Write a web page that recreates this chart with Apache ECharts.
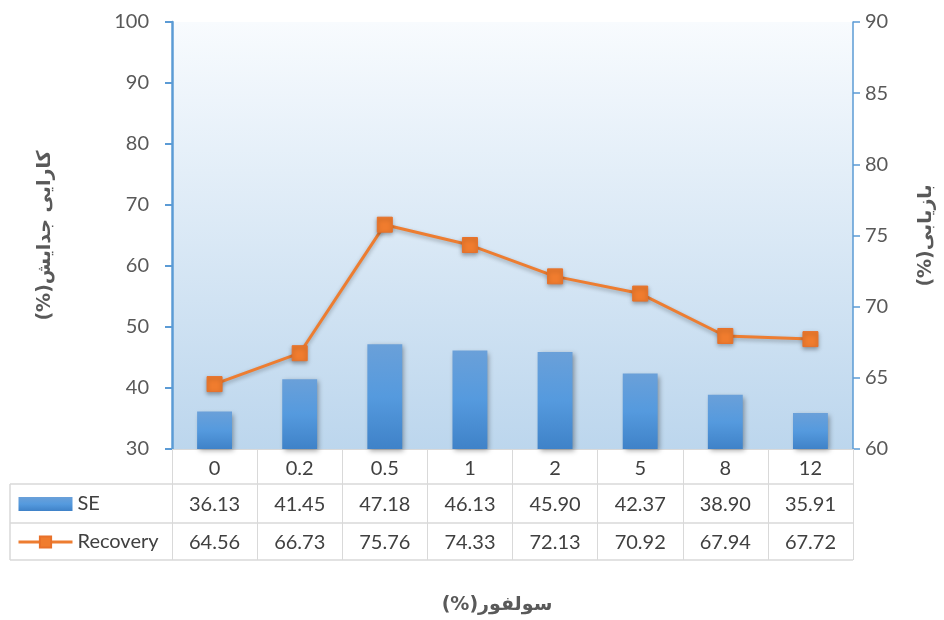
<!DOCTYPE html>
<html>
<head>
<meta charset="utf-8">
<script src="https://cdn.jsdelivr.net/npm/echarts@6/dist/echarts.min.js"></script>
<style>
	html, body { margin: 0; padding: 0; background: #fff; }
	#chartBox { width: 944px; height: 620px; }
</style>
</head>
<body>
<div id="chartBox"></div>
<script>
	// data
	var categories = ['0', '0.2', '0.5', '1', '2', '5', '8', '12'];
	var seValues = [36.13, 41.45, 47.18, 46.13, 45.90, 42.37, 38.90, 35.91];
	var recoveryValues = [64.56, 66.73, 75.76, 74.33, 72.13, 70.92, 67.94, 67.72];

	var latin = 'Lato, "Open Sans", sans-serif';
	var persian = '"DejaVu Sans", sans-serif';
	var tableLine = '#d9d9d9';
	var txt = '#404040';

	function fmt(v) { return v.toFixed(2); }
	// right-to-left embedding so "(%)" lands on the left like in the original
	function rtl(s) { return '\u202B' + s + '\u202C'; }

	var chart = echarts.init(document.getElementById('chartBox'));

	var option = {
		animation: false,
		grid: {
			left: 172, right: 91, top: 22, bottom: 171,
			show: true,
			borderWidth: 0,
			backgroundColor: {
				type: 'linear', x: 0, y: 0, x2: 0, y2: 1,
				colorStops: [{ offset: 0, color: '#f8fbfe' }, { offset: 1, color: '#bcd6ed' }]
			}
		},
		legend: {
			orient: 'vertical',
			left: 17,
			top: 494,
			padding: 0,
			itemWidth: 54,
			itemHeight: 14,
			itemGap: 18,
			textStyle: { fontFamily: latin, fontSize: 20, color: txt, lineHeight: 14, padding: [0, 0, 0, 0] },
			data: [
				{ name: 'SE', icon: 'rect' },
				{ name: 'Recovery', lineStyle: { width: 3 } }
			]
		},
		xAxis: [{
			type: 'category',
			data: categories,
			position: 'bottom',
			axisLine: { show: true, lineStyle: { color: tableLine, width: 1 } },
			axisTick: { show: true, length: 111, lineStyle: { color: tableLine } },
			axisLabel: { margin: 10, fontFamily: latin, fontSize: 20, color: txt }
		}, {
			type: 'category',
			data: seValues.map(fmt),
			position: 'bottom',
			offset: 36,
			axisLine: { show: false },
			axisTick: { show: false },
			axisLabel: { margin: 10, fontFamily: latin, fontSize: 20, color: txt }
		}, {
			type: 'category',
			data: recoveryValues.map(fmt),
			position: 'bottom',
			offset: 74,
			axisLine: { show: false },
			axisTick: { show: false },
			axisLabel: { margin: 10, fontFamily: latin, fontSize: 20, color: txt }
		}],
		yAxis: [{
			type: 'value',
			min: 30, max: 100, interval: 10,
			position: 'left',
			name: rtl('کارایی جدایش(%)'),
			nameLocation: 'middle',
			nameGap: 117,
			nameTextStyle: { fontFamily: persian, fontSize: 19, fontWeight: 'bold', color: '#595959' },
			axisLine: { show: true, lineStyle: { color: '#5b9bd5', width: 2.5 } },
			axisTick: { show: true, length: 7, lineStyle: { color: '#5b9bd5', width: 2 } },
			axisLabel: { margin: 23, fontFamily: latin, fontSize: 20, color: '#595959' },
			splitLine: { show: false }
		}, {
			type: 'value',
			min: 60, max: 90, interval: 5,
			position: 'right',
			name: rtl('بازیابی(%)'),
			nameLocation: 'middle',
			nameGap: 64,
			nameTextStyle: { fontFamily: persian, fontSize: 19, fontWeight: 'bold', color: '#595959' },
			axisLine: { show: true, lineStyle: { color: '#5b9bd5', width: 1.5 } },
			axisTick: { show: true, length: 7, lineStyle: { color: '#5b9bd5', width: 1.5 } },
			axisLabel: { margin: 12, fontFamily: latin, fontSize: 20, color: '#595959' },
			splitLine: { show: false }
		}],
		series: [{
			name: 'SE',
			type: 'bar',
			xAxisIndex: 0,
			yAxisIndex: 0,
			data: seValues,
			barWidth: '41%',
			itemStyle: {
				color: {
					type: 'linear', x: 0, y: 0, x2: 0, y2: 1,
					colorStops: [{ offset: 0, color: '#6aa0d9' }, { offset: 0.5, color: '#559ade' }, { offset: 1, color: '#3f82c8' }]
				},
				shadowBlur: 5,
				shadowColor: 'rgba(0,0,0,0.35)',
				shadowOffsetX: 2,
				shadowOffsetY: 2
			}
		}, {
			name: 'Recovery',
			type: 'line',
			xAxisIndex: 0,
			yAxisIndex: 1,
			data: recoveryValues,
			symbol: 'rect',
			symbolSize: 15,
			lineStyle: { color: '#ed7d31', width: 3, shadowBlur: 4, shadowColor: 'rgba(0,0,0,0.3)', shadowOffsetY: 2 },
			itemStyle: { color: '#f07c2e', borderColor: '#e8712a', borderWidth: 1, shadowBlur: 4, shadowColor: 'rgba(0,0,0,0.3)', shadowOffsetY: 2 }
		}],
		graphic: [
			// table frame lines (the vertical column lines come from the x axis ticks)
			{ type: 'line', shape: { x1: 10, y1: 484, x2: 853, y2: 484 }, style: { stroke: tableLine, lineWidth: 1.5 } },
			{ type: 'line', shape: { x1: 10, y1: 523, x2: 853, y2: 523 }, style: { stroke: tableLine, lineWidth: 1.5 } },
			{ type: 'line', shape: { x1: 10, y1: 560, x2: 853, y2: 560 }, style: { stroke: tableLine, lineWidth: 1.5 } },
			{ type: 'line', shape: { x1: 10, y1: 484, x2: 10, y2: 560 }, style: { stroke: tableLine, lineWidth: 1.5 } },
			{
				type: 'text', x: 497, y: 605,
				style: { text: rtl('سولفور(%)'), fontFamily: persian, fontSize: 19, fontWeight: 'bold', fill: '#595959', align: 'center', verticalAlign: 'middle' }
			}
		]
	};

	chart.setOption(option);
</script>
</body>
</html>
